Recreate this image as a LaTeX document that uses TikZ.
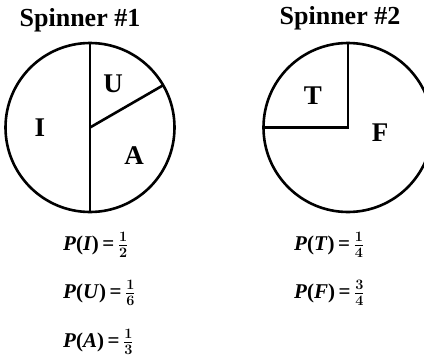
\documentclass[tikz,border=0pt]{standalone}
\usepackage{fontspec}
\setmainfont{Liberation Serif}
\begin{document}
\begin{tikzpicture}[x=1pt,y=-1pt,
  rim/.style={line width=2.6pt},
  title/.style={font=\fontsize{26}{28}\selectfont\bfseries},
  sector/.style={font=\fontsize{27}{29}\selectfont\bfseries},
  prob/.style={anchor=west,inner sep=0pt,font=\fontsize{21}{24}\selectfont\bfseries\boldmath}]
\useasboundingbox (0,0) rectangle (424,364);
% Spinner 1
\node[title] (t1) at (80,20) {Spinner \#1};
\coordinate (c1) at (90,127.5);
\draw[rim] (c1) circle[radius=84.5];
\coordinate (top1) at (90,43);
\coordinate (bot1) at (90,212);
\draw[rim] (top1) -- (bot1);
\draw[rim] (c1) -- ++(-30:84.5);
\node[sector] (lI) at (40,128) {I};
\node[sector] (lU) at (113,84) {U};
\node[sector] (lA) at (134,156) {A};
% Spinner 2
\node[title] (t2) at (340,18) {Spinner \#2};
\coordinate (c2) at (348,127.5);
\draw[rim] (c2) circle[radius=84.5];
\draw[rim] (348,43) -- (c2) -- (263.5,127.5);
\node[sector] (lT) at (313,96) {T};
\node[sector] (lF) at (380,133) {F};
% probabilities
\node[prob] (pI) at (63,245) {\textit{P}(\textit{I})\,=\,$\frac{1}{2}$};
\node[prob] (pU) at (63,293) {\textit{P}(\textit{U})\,=\,$\frac{1}{6}$};
\node[prob] (pA) at (63,342) {\textit{P}(\textit{A})\,=\,$\frac{1}{3}$};
\node[prob] (pT) at (294,245) {\textit{P}(\textit{T})\,=\,$\frac{1}{4}$};
\node[prob] (pF) at (294,293) {\textit{P}(\textit{F})\,=\,$\frac{3}{4}$};
\end{tikzpicture}
\end{document}
